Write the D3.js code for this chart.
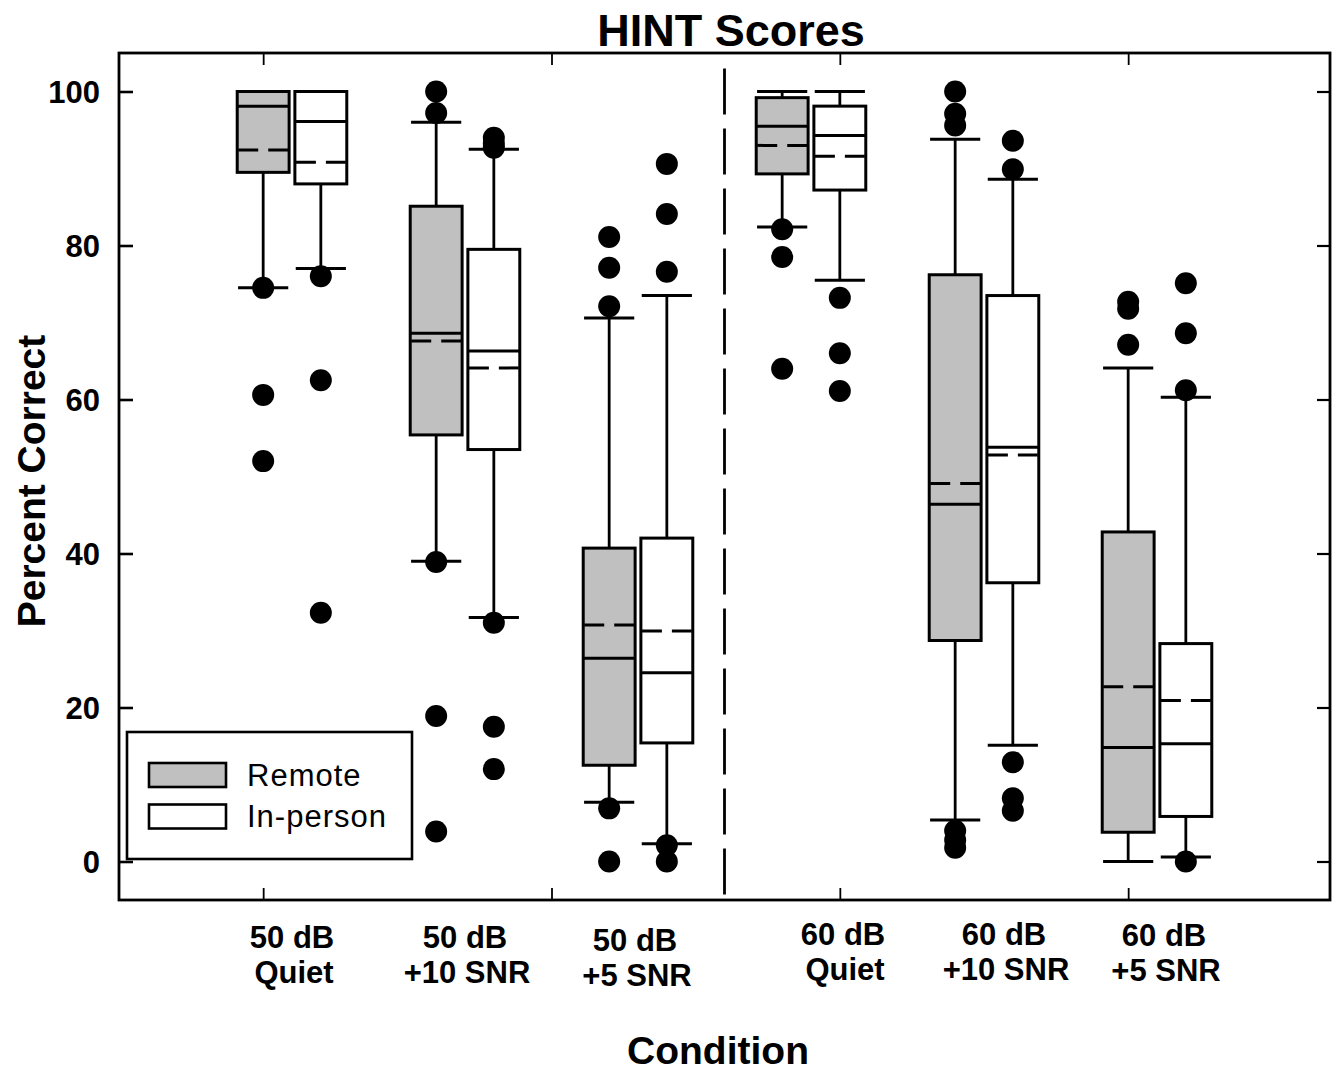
<!DOCTYPE html>
<html>
<head>
<meta charset="utf-8">
<script src="https://cdn.jsdelivr.net/npm/d3@7"></script>
<style>
  html, body { margin: 0; padding: 0; background: #fff; }
  svg { display: block; font-family: "Liberation Sans", Arial, sans-serif; }
</style>
</head>
<body>
<svg id="chart" width="1339" height="1072"></svg>
<script>
// ---------------- data ----------------
const conditionLine1 = ["50 dB", "50 dB", "50 dB", "60 dB", "60 dB", "60 dB"];
const conditionLine2 = ["Quiet", "+10 SNR", "+5 SNR", "Quiet", "+10 SNR", "+5 SNR"];
const seriesNames = ["Remote", "In-person"];

const remoteLowerWhisker = [74.5, 39.0, 7.7, 82.4, 5.4, 0];
const remoteQ1           = [89.5, 55.4, 12.5, 89.3, 28.7, 3.8];
const remoteMedian       = [98.1, 68.6, 26.4, 95.5, 46.4, 14.8];
const remoteMean         = [92.4, 67.6, 30.7, 93.0, 49.1, 22.7];
const remoteQ3           = [100, 85.1, 40.7, 99.2, 76.2, 42.8];
const remoteUpperWhisker = [100, 96.0, 70.6, 100, 93.8, 64.1];
const remoteOutliers = [
  [74.5, 60.6, 52.0],
  [100, 97.2, 38.9, 18.9, 3.9],
  [81.1, 77.1, 72.1, 6.9, 0],
  [82.1, 78.5, 64.0],
  [100, 97.1, 95.6, 4.0, 2.8, 1.8],
  [72.7, 71.8, 67.1]
];

const inPersonLowerWhisker = [77.0, 31.7, 2.3, 75.5, 15.1, 0.6];
const inPersonQ1           = [88.0, 53.5, 15.4, 87.2, 36.2, 5.85];
const inPersonMedian       = [96.1, 66.3, 24.5, 94.3, 53.8, 15.3];
const inPersonMean         = [90.8, 64.1, 29.95, 91.6, 52.8, 20.9];
const inPersonQ3           = [100, 79.5, 42.0, 98.1, 73.5, 28.3];
const inPersonUpperWhisker = [100, 92.5, 73.5, 100, 88.6, 60.3];
const inPersonOutliers = [
  [76.0, 62.5, 32.3],
  [94.0, 93.2, 92.7, 31.0, 17.5, 12.0],
  [90.6, 84.1, 76.6, 2.1, 0],
  [73.2, 66.0, 61.1],
  [93.6, 89.9, 12.9, 8.2, 6.6],
  [75.1, 68.6, 61.2, 0]
];

const yTickValues = [0, 20, 40, 60, 80, 100];
const xTickValues = [1, 6, 11, 16];
const separatorPosition = 9;

// ---------------- layout ----------------
const W = 1339, H = 1072;
const frame = { left: 119, right: 1330, top: 53, bottom: 900 };
const labelShiftX = [0, 0, -3, 32, 20, 7];
const labelShiftY = [0, 0, 3, -3, -3, -2];

const svg = d3.select("#chart");
svg.append("rect").attr("width", W).attr("height", H).attr("fill", "#fff");

const x = d3.scaleLinear().domain([-1.5, 19.5]).range([frame.left, frame.right]);
const y = d3.scaleLinear().domain([-5, 105]).range([frame.bottom, frame.top]);
const unit = x(1) - x(0);
const boxW = 0.9 * unit;
const capW = 0.87 * unit;

const series = [
  { name: seriesNames[0], fill: "#c0c0c0", offset: 1,
    lo: remoteLowerWhisker, q1: remoteQ1, med: remoteMedian, mean: remoteMean,
    q3: remoteQ3, hi: remoteUpperWhisker, out: remoteOutliers },
  { name: seriesNames[1], fill: "#ffffff", offset: 2,
    lo: inPersonLowerWhisker, q1: inPersonQ1, med: inPersonMedian, mean: inPersonMean,
    q3: inPersonQ3, hi: inPersonUpperWhisker, out: inPersonOutliers }
];

// ---------------- axes ----------------
const axL = svg.append("g").attr("transform", `translate(${frame.left},0)`)
  .call(d3.axisLeft(y).tickValues(yTickValues).tickSize(-14).tickPadding(19).tickFormat(d3.format("d")));
const axR = svg.append("g").attr("transform", `translate(${frame.right},0)`)
  .call(d3.axisRight(y).tickValues(yTickValues).tickSize(-13).tickFormat(""));
const axB = svg.append("g").attr("transform", `translate(0,${frame.bottom})`)
  .call(d3.axisBottom(x).tickValues(xTickValues).tickSize(-12).tickFormat(""));
const axT = svg.append("g").attr("transform", `translate(0,${frame.top})`)
  .call(d3.axisTop(x).tickValues(xTickValues).tickSize(-12).tickFormat(""));

[axL, axR, axB, axT].forEach(g => g.select(".domain").remove());
axL.selectAll(".tick line").attr("stroke", "#000").attr("stroke-width", 2.6);
axR.selectAll(".tick line").attr("stroke", "#000").attr("stroke-width", 2.2);
axB.selectAll(".tick line").attr("stroke", "#000").attr("stroke-width", 1.8);
axT.selectAll(".tick line").attr("stroke", "#000").attr("stroke-width", 1.8);
axL.selectAll(".tick text")
  .attr("fill", "#000")
  .attr("font-family", "'Liberation Sans', Arial, sans-serif")
  .attr("font-size", 31).attr("font-weight", "bold")
  .attr("dy", "0.36em");

// separator dashed line
svg.append("line")
  .attr("x1", x(separatorPosition)).attr("x2", x(separatorPosition))
  .attr("y1", y(103)).attr("y2", y(-5))
  .attr("stroke", "#000").attr("stroke-width", 2.8)
  .attr("stroke-dasharray", "46,14");

// ---------------- boxes ----------------
const boxes = svg.append("g");
series.forEach(s => {
  conditionLine1.forEach((c, i) => {
    const cx = x(3 * i + s.offset);
    const g = boxes.append("g");
    // whiskers
    g.append("line").attr("x1", cx).attr("x2", cx)
      .attr("y1", y(s.q3[i])).attr("y2", y(s.hi[i]))
      .attr("stroke", "#000").attr("stroke-width", 2.8);
    g.append("line").attr("x1", cx).attr("x2", cx)
      .attr("y1", y(s.q1[i])).attr("y2", y(s.lo[i]))
      .attr("stroke", "#000").attr("stroke-width", 2.8);
    // caps
    [s.hi[i], s.lo[i]].forEach(v => {
      g.append("line").attr("x1", cx - capW / 2).attr("x2", cx + capW / 2)
        .attr("y1", y(v)).attr("y2", y(v))
        .attr("stroke", "#000").attr("stroke-width", 3);
    });
    // box
    g.append("rect")
      .attr("x", cx - boxW / 2).attr("width", boxW)
      .attr("y", y(s.q3[i])).attr("height", y(s.q1[i]) - y(s.q3[i]))
      .attr("fill", s.fill).attr("stroke", "#000").attr("stroke-width", 3);
    // median
    g.append("line").attr("x1", cx - boxW / 2).attr("x2", cx + boxW / 2)
      .attr("y1", y(s.med[i])).attr("y2", y(s.med[i]))
      .attr("stroke", "#000").attr("stroke-width", 3);
    // mean (dashed)
    g.append("line").attr("x1", cx - boxW / 2 + 1).attr("x2", cx + boxW / 2 - 1)
      .attr("y1", y(s.mean[i])).attr("y2", y(s.mean[i]))
      .attr("stroke", "#000").attr("stroke-width", 3)
      .attr("stroke-dasharray", "20,10");
    // outliers
    g.selectAll("circle.out").data(s.out[i]).enter().append("circle")
      .attr("class", "out")
      .attr("cx", cx).attr("cy", d => y(d)).attr("r", 11)
      .attr("fill", "#000");
  });
});

// frame
svg.append("rect")
  .attr("x", frame.left).attr("y", frame.top)
  .attr("width", frame.right - frame.left).attr("height", frame.bottom - frame.top)
  .attr("fill", "none").attr("stroke", "#000").attr("stroke-width", 2.8);

// ---------------- category labels ----------------
const catG = svg.append("g")
  .attr("font-family", "'Liberation Sans', Arial, sans-serif")
  .attr("font-weight", "bold").attr("font-size", 31).attr("fill", "#000")
  .attr("text-anchor", "middle");
conditionLine1.forEach((c, i) => {
  const cx = x(3 * i + 1.5) + labelShiftX[i];
  catG.append("text").attr("x", cx).attr("y", 948 + labelShiftY[i]).text(c);
  catG.append("text").attr("x", cx + 2).attr("y", 983 + labelShiftY[i]).text(conditionLine2[i]);
});

// ---------------- titles ----------------
svg.append("text").attr("x", 731).attr("y", 46)
  .attr("text-anchor", "middle").attr("font-weight", "bold").attr("font-size", 45)
  .text("HINT Scores");
svg.append("text").attr("x", 718).attr("y", 1064)
  .attr("text-anchor", "middle").attr("font-weight", "bold").attr("font-size", 39)
  .text("Condition");
svg.append("text")
  .attr("transform", "translate(45,481) rotate(-90)")
  .attr("text-anchor", "middle").attr("font-weight", "bold").attr("font-size", 39)
  .text("Percent Correct");

// ---------------- legend ----------------
const lg = svg.append("g");
lg.append("rect").attr("x", 127).attr("y", 732).attr("width", 285).attr("height", 127)
  .attr("fill", "#fff").attr("stroke", "#000").attr("stroke-width", 2.6);
series.forEach((s, k) => {
  const top = 763 + k * 41.5;
  lg.append("rect").attr("x", 149).attr("y", top).attr("width", 77).attr("height", 24)
    .attr("fill", s.fill).attr("stroke", "#000").attr("stroke-width", 2.6);
  lg.append("text").attr("x", 247).attr("y", top + 22.5)
    .attr("font-size", 31).attr("letter-spacing", 1).attr("fill", "#000")
    .text(s.name);
});
</script>
</body>
</html>
